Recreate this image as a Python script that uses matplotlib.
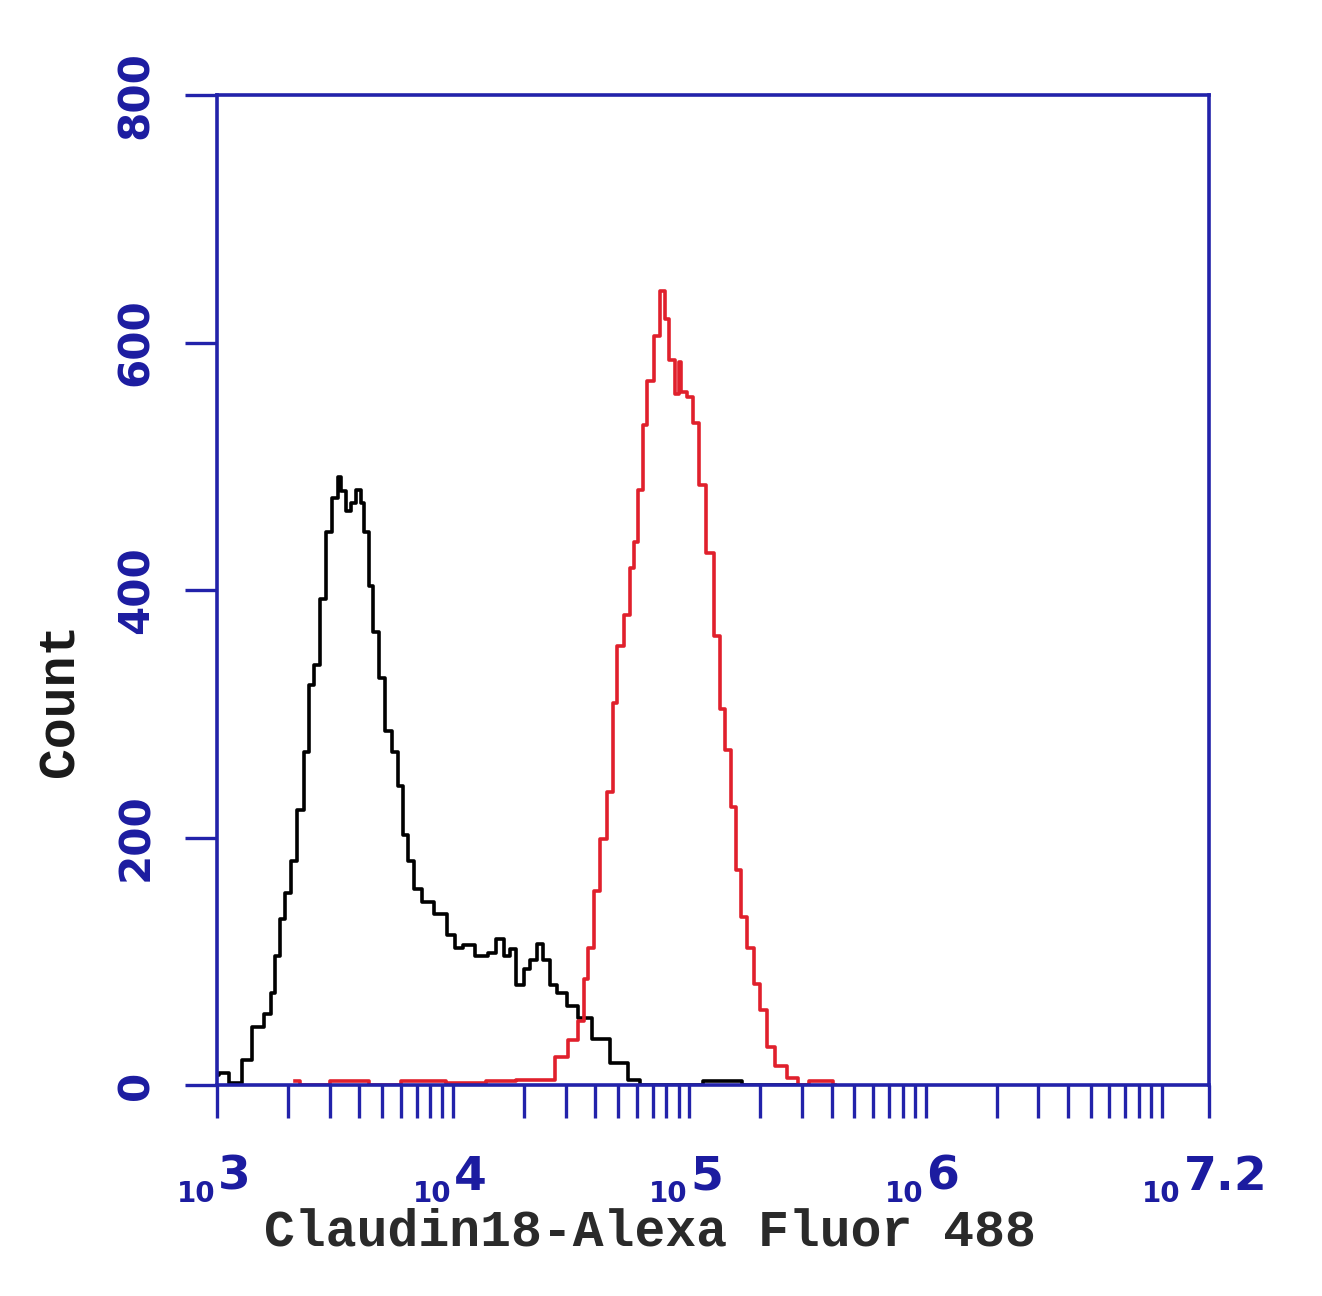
import matplotlib
matplotlib.use("Agg")
import matplotlib.pyplot as plt
from matplotlib import font_manager
from matplotlib.ticker import FixedLocator, NullFormatter
import numpy as np

# ---------------- data ----------------
# black histogram (isotype / control): log10 intensity vs count
black_log10 = [3.000, 3.017, 3.085, 3.127, 3.169, 3.224, 3.237, 3.254, 3.275, 3.301,
               3.322, 3.351, 3.381, 3.402, 3.423, 3.449, 3.470, 3.500, 3.521, 3.533,
               3.555, 3.576, 3.597, 3.618, 3.627, 3.656, 3.669, 3.699, 3.724, 3.754,
               3.775, 3.796, 3.817, 3.847, 3.889, 3.944, 3.999, 4.020, 4.058, 4.126,
               4.168, 4.198, 4.228, 4.249, 4.283, 4.312, 4.338, 4.367, 4.397, 4.423,
               4.452, 4.507, 4.550, 4.622, 4.706, 4.770, 4.812, 5.000, 5.108, 5.214,
               5.235, 5.500]
black_count = [8, 10, 2, 20, 47, 57, 74, 104, 134, 155,
               181, 222, 269, 323, 339, 393, 447, 474, 491, 480,
               464, 470, 481, 470, 447, 403, 366, 329, 286, 269,
               242, 202, 181, 158, 148, 138, 121, 111, 113, 104,
               107, 118, 104, 110, 81, 94, 101, 114, 101, 81,
               74, 64, 54, 37, 18, 4, 0, 0, 3, 3,
               0, 0]

# red histogram (Claudin18 stained)
red_log10 = [3.330, 3.373, 3.563, 3.711, 3.838, 4.071, 4.198, 4.325, 4.397, 4.465,
             4.507, 4.545, 4.566, 4.579, 4.609, 4.634, 4.664, 4.685, 4.706, 4.736,
             4.757, 4.778, 4.791, 4.812, 4.833, 4.863, 4.888, 4.905, 4.926, 4.948,
             4.960, 4.973, 5.003, 5.024, 5.053, 5.087, 5.117, 5.138, 5.163, 5.185,
             5.206, 5.227, 5.257, 5.286, 5.312, 5.341, 5.384, 5.439, 5.481, 5.532,
             5.595, 5.617]
red_count = [3, 0, 3, 0, 3, 2, 3, 4, 4, 23,
             36, 52, 86, 111, 157, 199, 237, 309, 355, 380,
             418, 439, 481, 533, 569, 605, 642, 619, 586, 558,
             584, 560, 556, 535, 485, 430, 363, 304, 271, 225,
             174, 136, 111, 82, 61, 31, 15, 6, 0, 3,
             3, 0]

y_ticks = [0, 200, 400, 600, 800]
x_decades = [3, 4, 5, 6, 7]
x_max_exp = 7.2
x_label = "Claudin18-Alexa Fluor 488"
y_label = "Count"

# ---------------- styling ----------------
BLUE = "#2222aa"
TXT_BLUE = "#1c1ca0"
names = {f.name for f in font_manager.fontManager.ttflist}
if "Liberation Sans Narrow" in names:
    NUM_FONT = "Liberation Sans Narrow"
    k_big, k_small, k_y = 1.0, 1.0, 1.0
else:
    NUM_FONT = "DejaVu Sans"
    k_big, k_small, k_y = 0.81, 0.8, 0.72
MONO = "Liberation Mono" if "Liberation Mono" in names else "DejaVu Sans Mono"

W, H = 1322, 1296
fig = plt.figure(figsize=(W / 100, H / 100), dpi=100)
fig.patch.set_facecolor("white")
L, R, T, B = 217, 1209, 95, 1085
ax = fig.add_axes([L / W, 1 - B / H, (R - L) / W, (B - T) / H])

ax.plot(10 ** np.array(black_log10), black_count, color="black", lw=2.6,
        drawstyle="steps-mid", zorder=3)
ax.plot(10 ** np.array(red_log10), red_count, color="#e0202c", lw=2.6,
        drawstyle="steps-mid", zorder=4)

ax.set_xscale("log")
ax.set_xlim(10 ** 3, 10 ** x_max_exp)
ax.set_ylim(0, 800)

for s in ax.spines.values():
    s.set_color(BLUE)
    s.set_linewidth(2.6)
    s.set_zorder(5)

# x ticks
major = [10.0 ** d for d in x_decades] + [10 ** x_max_exp]
minor = [m * 10.0 ** d for d in x_decades[:-1] for m in range(2, 10)] + \
        [m * 10.0 ** 7 for m in range(2, 10) if m * 10.0 ** 7 < 10 ** x_max_exp]
ax.xaxis.set_major_locator(FixedLocator(major))
ax.xaxis.set_minor_locator(FixedLocator(minor))
ax.xaxis.set_major_formatter(NullFormatter())
ax.xaxis.set_minor_formatter(NullFormatter())
ax.tick_params(axis="x", which="both", direction="out", length=24, width=2.4,
               color=BLUE)

# y ticks
ax.set_yticks(y_ticks)
ax.set_yticklabels([str(v) for v in y_ticks], rotation=90, va="center",
                   fontsize=42 * k_y, fontfamily=NUM_FONT, fontweight="bold",
                   color=TXT_BLUE)
ax.tick_params(axis="y", which="both", direction="out", length=23, width=2.4,
               color=BLUE, pad=20)

# x tick labels: small "10" + large exponent
dec = 236.2  # pixels per decade
xt = ax.get_xaxis_transform()
ybase_big = (B - 1190) / (B - T)
ybase_small = (B - 1202) / (B - T)
for d in x_decades[:-1]:
    ax.text(10 ** (d - 2 / dec), ybase_small, "10", transform=xt, ha="right",
            va="baseline", fontsize=25 * k_small, fontfamily=NUM_FONT,
            fontweight="bold", color=TXT_BLUE, clip_on=False)
    ax.text(10 ** (d + 1 / dec), ybase_big, str(d), transform=xt, ha="left",
            va="baseline", fontsize=42 * k_big, fontfamily=NUM_FONT,
            fontweight="bold", color=TXT_BLUE, clip_on=False)
ax.text(10 ** (x_max_exp - 29 / dec), ybase_small, "10", transform=xt, ha="right",
        va="baseline", fontsize=25 * k_small, fontfamily=NUM_FONT, fontweight="bold",
        color=TXT_BLUE, clip_on=False)
ax.text(10 ** (x_max_exp - 25 / dec), ybase_big, "7.2", transform=xt, ha="left",
        va="baseline", fontsize=42 * k_big, fontfamily=NUM_FONT, fontweight="bold",
        color=TXT_BLUE, clip_on=False)

# axis titles
fig.text(650 / W, 1 - 1232 / H, x_label, ha="center", va="center",
         fontsize=37, fontfamily=MONO, fontweight="bold", color="#2a2a2a")
fig.text(60 / W, 1 - 700 / H, y_label, ha="center", va="center", rotation=90,
         fontsize=37, fontfamily=MONO, fontweight="bold", color="#1a1a1a")

fig.savefig("out.png", dpi=100, facecolor="white")
